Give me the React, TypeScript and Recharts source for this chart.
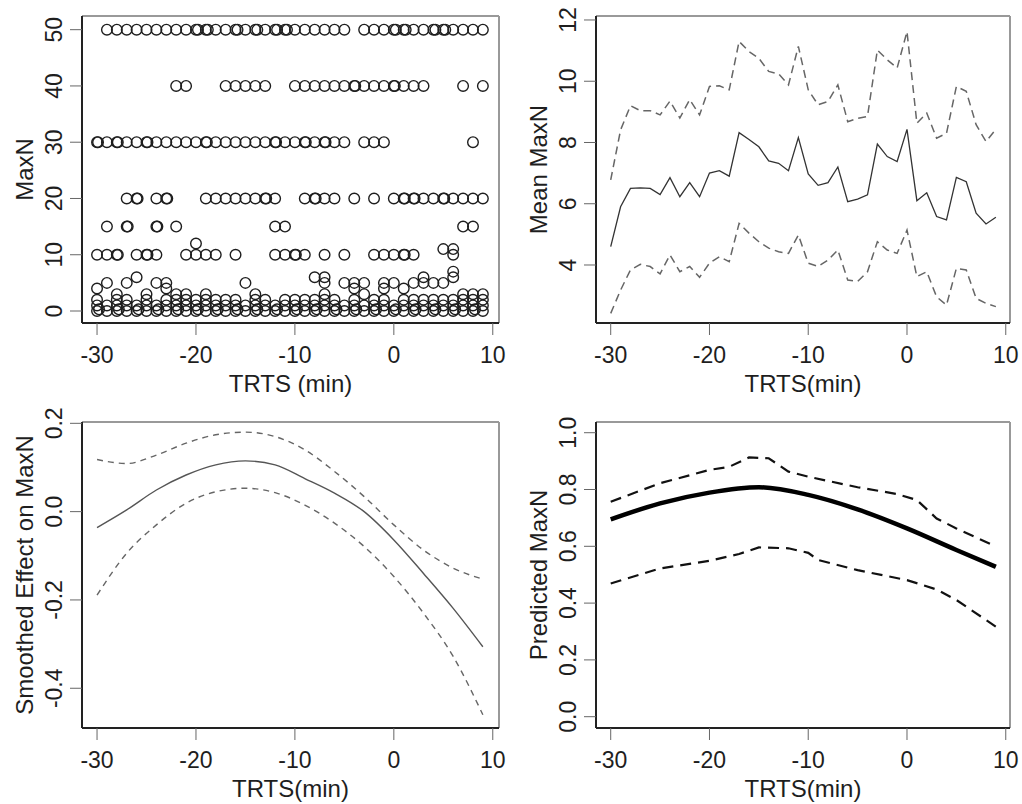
import React from "react"
import { ComposedChart, Scatter, Line, XAxis, YAxis, ReferenceLine } from "recharts"

const FONT = "'Liberation Sans', Arial, sans-serif"
const INK = "#1e1e1e"

const minutes = [
  -30, -29, -28, -27, -26, -25, -24, -23, -22, -21, -20, -19, -18, -17, -16, -15, -14, -13, -12, -11,
  -10, -9, -8, -7, -6, -5, -4, -3, -2, -1, 0, 1, 2, 3, 4, 5, 6, 7, 8, 9,
]
const xTicks = [-30, -20, -10, 0, 10]

// top left: MaxN per drop, grouped by MaxN level (x = TRTS in minutes)
const at50 = [
  -29, -28, -27, -26, -25, -24, -23, -22, -21, -20, -19.8, -19, -18.8, -18, -17, -16, -15.8, -15, -14, -13.8,
  -13, -12, -11.8, -11, -10.8, -10, -9, -8, -7, -6, -5, -3, -2, -1, 0, 0.2, 1, 1.2, 2, 3, 4, 4.2, 5, 5.2, 6, 7, 8, 9,
]
const at40 = [-22, -21, -17, -16, -15, -14, -13, -10, -9, -8, -7, -6, -5, -4, -3.9, -3, -2, -1, 0, 0.1, 1, 2, 3, 7, 9]
const at30 = [
  -30, -29.9, -29, -28, -27.9, -27, -26, -25, -24.9, -24, -23, -22, -21, -20, -19, -18.9, -18, -17, -16, -15,
  -14, -13, -12, -11.9, -11, -10, -9, -8.9, -8, -7, -6.9, -6, -5, -3, -2, -1, 8,
]
const at20 = [
  -27, -26, -25.9, -24, -23, -22.9, -19, -18, -17, -16, -15, -14, -13, -12.9, -12, -9, -8, -7.9, -7, -6, -4, -2,
  0, 1, 1.1, 2, 2.1, 3, 4, 5, 5.1, 6, 7, 8, 9,
]
const at15 = [-29, -27, -26.9, -24, -23.9, -22, -12, -11, 7, 8]
const at12 = [-20]
const at11 = [5, 6]
const at10 = [
  -30, -29, -28, -27.9, -26, -25, -24.9, -24, -21, -20, -19, -18, -16, -12, -11, -10, -9.9, -9, -7, -5, -2, -1, 0,
  1, 1.1, 2, 6,
]
const at7 = [6]
const at6 = [-26, -8, -7, 3, 6]
const at5 = [-29, -27, -24, -23, -15, -7, -5, -4, -3, -1, 0, 2, 3, 4, 5]
const at4 = [-30, -23, -4, -1, 1]
const at3 = [-28, -25, -22, -21, -19, -14, -7, -3, 7, 8, 9]
const at2 = [
  -30, -28, -27, -25, -23, -22, -21, -20, -19, -18, -17, -16, -14, -13, -11, -10, -9, -8, -7, -6, -4, -2, -1, 1,
  2, 3, 4, 5, 6, 7, 8, 9,
]
const at1 = minutes
const at0 = minutes
// repeated zero counts that overlap the row above
const at0b = [
  -29.8, -27.8, -25.8, -23.8, -21.8, -19.8, -17.8, -15.8, -13.8, -11.8, -9.8, -7.8, -5.8, -3.8, -1.8, 0.2, 2.2,
  4.2, 6.2, 8.2,
]

const scatterRows: [number, number[]][] = [
  [50, at50], [40, at40], [30, at30], [20, at20], [15, at15], [12, at12], [11, at11], [10, at10],
  [7, at7], [6, at6], [5, at5], [4, at4], [3, at3], [2, at2], [1, at1], [0, at0], [0.3, at0b],
]
const scatterPoints = scatterRows.flatMap(([y, xs]) => xs.map((x) => ({ x, y })))

// top right: mean MaxN per minute with interval
const meanMaxN = [
  4.6, 5.9, 6.5, 6.52, 6.5, 6.3, 6.85, 6.23, 6.69, 6.23, 7.0, 7.08, 6.9, 8.32, 8.1, 7.86, 7.4, 7.32, 7.08, 8.16,
  6.97, 6.6, 6.69, 7.2, 6.07, 6.15, 6.29, 7.95, 7.54, 7.38, 8.43, 6.1, 6.36, 5.58, 5.47, 6.86, 6.72, 5.69, 5.34, 5.56,
]
const meanUpper = [
  6.78, 8.41, 9.2, 9.04, 9.04, 8.9, 9.35, 8.8, 9.4, 8.9, 9.83, 9.85, 9.72, 11.3, 10.97, 10.75, 10.32, 10.24, 9.88, 11.14,
  9.72, 9.23, 9.34, 9.88, 8.68, 8.79, 8.85, 11.02, 10.7, 10.43, 11.62, 8.63, 8.96, 8.14, 8.3, 9.83, 9.67, 8.58, 8.03, 8.43,
]
const meanLower = [
  2.42, 3.18, 3.84, 4.02, 3.95, 3.71, 4.33, 3.78, 3.95, 3.6, 4.06, 4.27, 4.11, 5.36, 5.04, 4.76, 4.55, 4.43, 4.38, 4.98,
  4.06, 3.95, 4.16, 4.49, 3.51, 3.46, 3.78, 4.76, 4.49, 4.38, 5.14, 3.62, 3.78, 2.96, 2.69, 3.89, 3.84, 2.91, 2.75, 2.64,
]
const meanTable = minutes.map((x, i) => ({ x, mean: meanMaxN[i], upper: meanUpper[i], lower: meanLower[i] }))

// bottom left: smoothed effect
const smoothX = [-30, -27, -24, -21, -18, -15, -12, -9, -6, -3, 0, 3, 6, 9]
const smoothFit = [-0.036, 0.004, 0.049, 0.083, 0.106, 0.115, 0.106, 0.075, 0.042, 0.0, -0.064, -0.14, -0.219, -0.306]
const smoothUpper = [0.118, 0.109, 0.128, 0.155, 0.174, 0.18, 0.17, 0.14, 0.091, 0.034, -0.03, -0.087, -0.128, -0.153]
const smoothLower = [-0.189, -0.094, -0.03, 0.019, 0.045, 0.053, 0.043, 0.015, -0.026, -0.079, -0.147, -0.23, -0.328, -0.46]
const smoothTable = smoothX.map((x, i) => ({ x, fit: smoothFit[i], upper: smoothUpper[i], lower: smoothLower[i] }))

// bottom right: predicted MaxN
const predX = [-30, -25, -20, -15, -10, -5, 0, 5, 9]
const predFit = [0.695, 0.751, 0.789, 0.808, 0.781, 0.73, 0.663, 0.587, 0.528]
const predUpperX = [-30, -25, -20, -18, -16, -14, -12, -10, -5, -1, 1, 3, 5, 9]
const predUpper = [0.757, 0.822, 0.869, 0.88, 0.913, 0.91, 0.863, 0.845, 0.808, 0.784, 0.763, 0.698, 0.663, 0.599]
const predLowerX = [-30, -25, -20, -17, -15, -12, -10, -9, -5, 0, 3, 5, 9]
const predLower = [0.469, 0.522, 0.549, 0.573, 0.596, 0.593, 0.577, 0.552, 0.516, 0.481, 0.448, 0.411, 0.317]

const predFitData = predX.map((x, i) => ({ x, y: predFit[i] }))
const predUpperData = predUpperX.map((x, i) => ({ x, y: predUpper[i] }))
const predLowerData = predLowerX.map((x, i) => ({ x, y: predLower[i] }))

const tickStyle = { fontSize: 23, fontFamily: FONT, fill: INK }
const titleStyle = { fontSize: 24, fontFamily: FONT, fill: INK }

function XTick(props: any) {
  const { x, y, payload } = props
  return (
    <text x={x} y={y + 28} textAnchor="middle" {...tickStyle}>
      {payload.value}
    </text>
  )
}

function makeYTick(digits: number) {
  return function YTick(props: any) {
    const { x, y, payload } = props
    const bx = x - 8
    return (
      <text x={bx} y={y} transform={`rotate(-90 ${bx} ${y})`} textAnchor="middle" {...tickStyle}>
        {Number(payload.value).toFixed(digits)}
      </text>
    )
  }
}

function XTitle(props: any) {
  const { viewBox, text } = props
  return (
    <text x={viewBox.x + viewBox.width / 2} y={viewBox.y + 69} textAnchor="middle" {...titleStyle}>
      {text}
    </text>
  )
}

function YTitle(props: any) {
  const { viewBox, text } = props
  const bx = viewBox.x + viewBox.width - 49
  const cy = viewBox.y + viewBox.height / 2
  return (
    <text x={bx} y={cy} transform={`rotate(-90 ${bx} ${cy})`} textAnchor="middle" {...titleStyle}>
      {text}
    </text>
  )
}

function Ring(props: any) {
  return <circle cx={props.cx} cy={props.cy} r={5.3} fill="none" stroke={INK} strokeWidth={1.4} />
}

interface PanelProps {
  left: number
  top: number
  height: number
  marginTop: number
  yAxisWidth: number
  xAxisHeight: number
  xDomain: [number, number]
  yDomain: [number, number]
  yTicks: number[]
  yDigits: number
  xTitle: string
  yTitle: string
  data?: any[]
  children: React.ReactNode
}

function Panel(p: PanelProps) {
  return (
    <div style={{ position: "absolute", left: p.left, top: p.top }}>
      <ComposedChart
        width={511}
        height={p.height}
        data={p.data}
        margin={{ top: p.marginTop, right: 12, left: 0, bottom: 0 }}
      >
        <XAxis
          type="number"
          dataKey="x"
          domain={p.xDomain}
          ticks={xTicks}
          allowDataOverflow
          height={p.xAxisHeight}
          tickSize={12}
          tickMargin={0}
          tick={<XTick />}
          tickLine={{ stroke: "#666" }}
          axisLine={{ stroke: "#222", strokeWidth: 2 }}
          label={<XTitle text={p.xTitle} />}
        />
        <YAxis
          type="number"
          dataKey="y"
          domain={p.yDomain}
          ticks={p.yTicks}
          allowDataOverflow
          width={p.yAxisWidth}
          tickSize={12}
          tickMargin={0}
          tick={makeYTick(p.yDigits)}
          tickLine={{ stroke: "#666" }}
          axisLine={{ stroke: "#222", strokeWidth: 2 }}
          label={<YTitle text={p.yTitle} />}
        />
        <ReferenceLine y={p.yDomain[1]} stroke="#999" strokeWidth={2} ifOverflow="visible" />
        <ReferenceLine x={p.xDomain[1]} stroke="#999" strokeWidth={2} ifOverflow="visible" />
        {p.children}
      </ComposedChart>
    </div>
  )
}

export default function App() {
  return (
    <div style={{ position: "absolute", left: 0, top: 0, width: 1022, height: 804, background: "#fff" }}>
      <Panel
        left={0}
        top={0}
        height={400}
        marginTop={16}
        yAxisWidth={82}
        xAxisHeight={77}
        xDomain={[-31.52, 10.63]}
        yDomain={[-2.13, 52.43]}
        yTicks={[0, 10, 20, 30, 40, 50]}
        yDigits={0}
        xTitle="TRTS (min)"
        yTitle="MaxN"
      >
        <Scatter data={scatterPoints} dataKey="y" shape={<Ring />} isAnimationActive={false} />
      </Panel>

      <Panel
        left={511}
        top={0}
        height={400}
        marginTop={16}
        yAxisWidth={85}
        xAxisHeight={77}
        xDomain={[-31.49, 10.43]}
        yDomain={[2.106, 12.13]}
        yTicks={[4, 6, 8, 10, 12]}
        yDigits={0}
        xTitle="TRTS(min)"
        yTitle="Mean MaxN"
        data={meanTable}
      >
        <Line type="linear" dataKey="upper" stroke="#666" strokeWidth={1.5} strokeDasharray="8 5" dot={false} isAnimationActive={false} />
        <Line type="linear" dataKey="lower" stroke="#666" strokeWidth={1.5} strokeDasharray="8 5" dot={false} isAnimationActive={false} />
        <Line type="linear" dataKey="mean" stroke="#333" strokeWidth={1.3} dot={false} isAnimationActive={false} />
      </Panel>

      <Panel
        left={0}
        top={400}
        height={404}
        marginTop={22}
        yAxisWidth={82}
        xAxisHeight={76}
        xDomain={[-31.52, 10.63]}
        yDomain={[-0.49, 0.203]}
        yTicks={[-0.4, -0.2, 0.0, 0.2]}
        yDigits={1}
        xTitle="TRTS(min)"
        yTitle="Smoothed Effect on MaxN"
        data={smoothTable}
      >
        <Line type="monotone" dataKey="upper" stroke="#666" strokeWidth={1.4} strokeDasharray="6 5" dot={false} isAnimationActive={false} />
        <Line type="monotone" dataKey="lower" stroke="#666" strokeWidth={1.4} strokeDasharray="6 5" dot={false} isAnimationActive={false} />
        <Line type="monotone" dataKey="fit" stroke="#555" strokeWidth={1.4} dot={false} isAnimationActive={false} />
      </Panel>

      <Panel
        left={511}
        top={400}
        height={404}
        marginTop={22}
        yAxisWidth={85}
        xAxisHeight={76}
        xDomain={[-31.49, 10.43]}
        yDomain={[-0.0398, 1.0377]}
        yTicks={[0, 0.2, 0.4, 0.6, 0.8, 1.0]}
        yDigits={1}
        xTitle="TRTS(min)"
        yTitle="Predicted MaxN"
      >
        <Line data={predUpperData} type="linear" dataKey="y" stroke="#111" strokeWidth={2.2} strokeDasharray="11 7" dot={false} isAnimationActive={false} />
        <Line data={predLowerData} type="linear" dataKey="y" stroke="#111" strokeWidth={2.2} strokeDasharray="11 7" dot={false} isAnimationActive={false} />
        <Line data={predFitData} type="monotone" dataKey="y" stroke="#000" strokeWidth={4.5} dot={false} isAnimationActive={false} />
      </Panel>
    </div>
  )
}
